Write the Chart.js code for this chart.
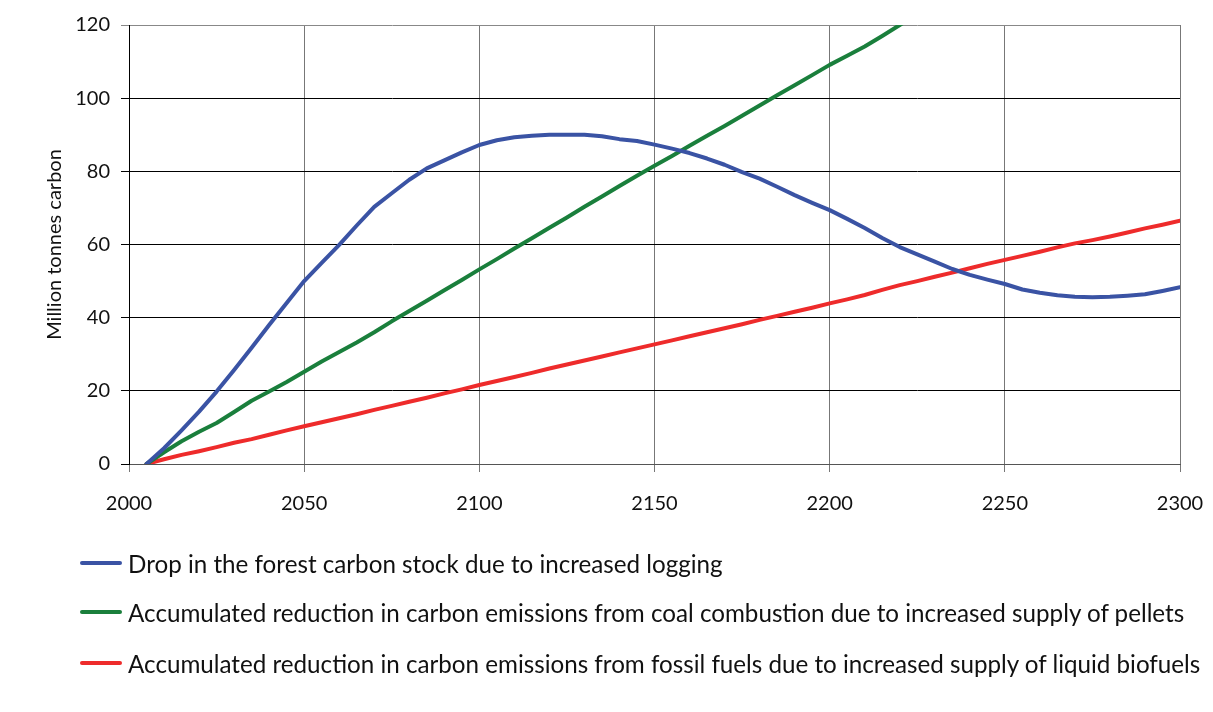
<!DOCTYPE html>
<html>
<head>
<meta charset="utf-8">
<script src="https://cdn.jsdelivr.net/npm/chart.js@4/dist/chart.umd.min.js"></script>
<style>
  body { margin: 0; background: #fff; }
  #wrap { position: relative; width: 1213px; height: 712px; }
  #legend { position: absolute; left: 80px; top: 0; font-family: Lato, sans-serif; font-size: 24.2px; color: #111; }
  .row { position: absolute; left: 0; white-space: nowrap; display: flex; align-items: center; }
  .swatch { width: 42px; height: 4px; border-radius: 2px; margin-right: 6px; }
</style>
</head>
<body>
<div id="wrap">
  <canvas id="chart" width="1213" height="712"></canvas>
  <div id="legend"></div>
</div>
<script>
// years on the x axis (every 5 years)
var years = [2005, 2010, 2015, 2020, 2025, 2030, 2035, 2040, 2045, 2050,
             2055, 2060, 2065, 2070, 2075, 2080, 2085, 2090, 2095, 2100,
             2105, 2110, 2115, 2120, 2125, 2130, 2135, 2140, 2145, 2150,
             2155, 2160, 2165, 2170, 2175, 2180, 2185, 2190, 2195, 2200,
             2205, 2210, 2215, 2220, 2225, 2230, 2235, 2240, 2245, 2250,
             2255, 2260, 2265, 2270, 2275, 2280, 2285, 2290, 2295, 2300];

var forestDrop = [0, 4.3, 9.2, 14.3, 19.8, 25.7, 31.8, 38, 44, 50,
                  55, 59.9, 65.2, 70.3, 74, 77.7, 80.8, 83, 85.2, 87.2,
                  88.5, 89.3, 89.7, 90, 90, 90, 89.6, 88.8, 88.3, 87.3,
                  86.2, 85, 83.5, 81.8, 79.8, 78, 75.8, 73.5, 71.4, 69.4,
                  67, 64.5, 61.8, 59.3, 57.3, 55.3, 53.3, 51.7, 50.4, 49.2,
                  47.7, 46.8, 46.1, 45.7, 45.6, 45.7, 46, 46.4, 47.3, 48.3];

// goes off the top of the chart after 2220
var pellets = [0, 3.2, 6.2, 8.8, 11.2, 14.2, 17.3, 19.8, 22.4, 25.2,
               28, 30.6, 33.2, 36, 39, 41.8, 44.6, 47.5, 50.3, 53.2,
               56, 58.9, 61.7, 64.6, 67.4, 70.3, 73.1, 76, 78.8, 81.5,
               84.2, 87, 89.7, 92.4, 95.2, 98, 100.8, 103.5, 106.3, 109.1,
               111.6, 114.1, 117, 120, 123, null, null, null, null, null,
               null, null, null, null, null, null, null, null, null, null];

var biofuels = [0, 1.3, 2.5, 3.5, 4.6, 5.8, 6.8, 8, 9.2, 10.3,
                11.4, 12.5, 13.6, 14.8, 15.9, 17, 18.1, 19.3, 20.4, 21.6,
                22.7, 23.8, 24.9, 26.1, 27.2, 28.3, 29.4, 30.5, 31.6, 32.7,
                33.8, 34.9, 36, 37.1, 38.2, 39.4, 40.5, 41.6, 42.7, 43.9,
                45, 46.2, 47.6, 48.9, 50, 51.2, 52.3, 53.5, 54.7, 55.8,
                56.9, 58, 59.2, 60.3, 61.2, 62.2, 63.3, 64.4, 65.4, 66.5];

var seriesNames = [
    "Drop in the forest carbon stock due to increased logging",
    "Accumulated reduction in carbon emissions from coal combustion due to increased supply of pellets",
    "Accumulated reduction in carbon emissions from fossil fuels due to increased supply of liquid biofuels"
];
var seriesColors = ["#3a53a4", "#1a7f3c", "#ee2b2b"];

var xTicks = [2000, 2050, 2100, 2150, 2200, 2250, 2300];
var yTicks = [0, 20, 40, 60, 80, 100, 120];

function toPoints(vals){
    let pts = [];
    for (let i=0;i<years.length;i++){
        if (vals[i] !== null) pts.push({x: years[i], y: vals[i]});
    }
    return pts;
}

var allSeries = [forestDrop, pellets, biofuels];
var datasets  = [];
for (let i=0;i<allSeries.length;i++){
    datasets.push({
        label: seriesNames[i],
        data: toPoints(allSeries[i]),
        borderColor: seriesColors[i],
        backgroundColor: seriesColors[i],
        borderWidth: 4,
        pointRadius: 0,
        tension: 0,
        borderCapStyle: "round",
        borderJoinStyle: "round"
    });
}

var tickFont = {family: "Lato, sans-serif", size: 20};

new Chart(document.getElementById("chart"), {
    type: "line",
    data: { datasets: datasets },
    options: {
        responsive: false,
        animation: false,
        layout: { padding: {left: 0, right: 33, top: 25, bottom: 188} },
        plugins: { legend: {display: false}, tooltip: {enabled: false} },
        scales: {
            x: {
                type: "linear",
                min: 2000, max: 2300,
                afterBuildTicks: function(scale){ scale.ticks = xTicks.map(v => ({value: v})); },
                afterFit: function(scale){
                    scale.height = 60;
                    // labels at the ends may hang over, the page has room for them
                    scale.paddingLeft = 0;
                    scale.paddingRight = 0;
                },
                ticks: { color: "#111", font: tickFont, padding: 20, maxRotation: 0,
                         callback: function(v){ return String(v); } },
                grid: { color: "#777", lineWidth: 1, tickLength: 8, drawTicks: true },
                border: { color: "#555", width: 1 }
            },
            y: {
                min: 0, max: 120,
                afterBuildTicks: function(scale){ scale.ticks = yTicks.map(v => ({value: v})); },
                afterFit: function(scale){ scale.width = 129; },
                ticks: { color: "#111", font: tickFont, padding: 11 },
                grid: { color: function(c){ return c.tick && c.tick.value === 120 ? "#888" : "#000"; },
                        lineWidth: 1, tickLength: 8 },
                border: { color: "#000", width: 1 },
                title: { display: true, text: "Million tonnes carbon", color: "#111",
                         font: {family: "Lato, sans-serif", size: 20}, padding: {top: 43, bottom: 0} }
            }
        }
    }
});

// legend below the chart
var rowCenters = [563, 612, 663];
var legend = document.getElementById("legend");
for (let i=0;i<seriesNames.length;i++){
    let row = document.createElement("div");
    row.className = "row";
    row.style.top = (rowCenters[i] - 15) + "px";
    row.style.height = "30px";
    let sw = document.createElement("span");
    sw.className = "swatch";
    sw.style.background = seriesColors[i];
    let tx = document.createElement("span");
    tx.textContent = seriesNames[i];
    row.appendChild(sw);
    row.appendChild(tx);
    legend.appendChild(row);
}
</script>
</body>
</html>
